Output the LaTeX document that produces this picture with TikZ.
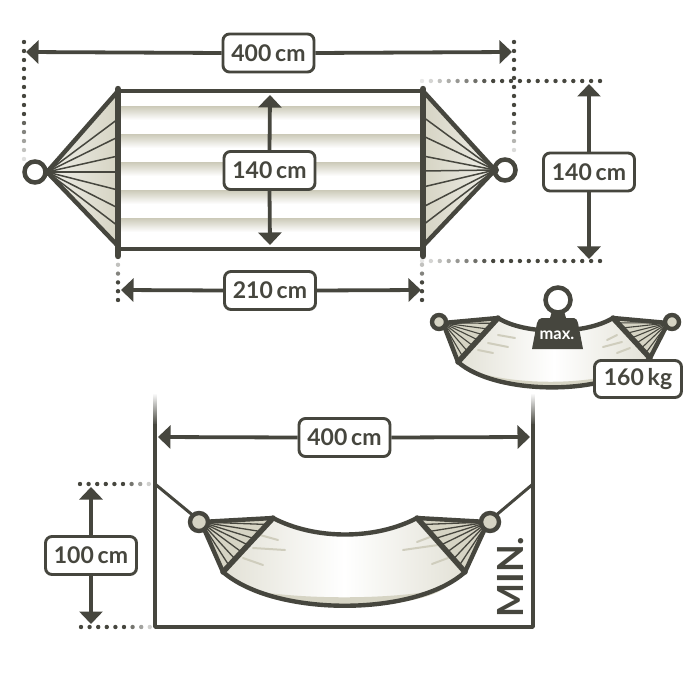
\documentclass[tikz,border=0pt]{standalone}
\usepackage{fontspec}
\setmainfont{Lato}
\usetikzlibrary{arrows.meta,calc}
\definecolor{ink}{HTML}{46463E}
\definecolor{tan}{HTML}{D6D4C4}
\definecolor{fold}{HTML}{CFCDBD}
\tikzset{
  lab/.style={draw=ink,line width=2.9pt,fill=white,rounded corners=6.5pt,text=ink,font=\fontsize{23}{25}\selectfont\bfseries,inner sep=0pt},
  labw/.style={lab,minimum width=91pt,minimum height=38pt},
  dim/.style={draw=ink,line width=3.8pt,-{Triangle[length=12.5pt,width=23pt]},shorten >=0pt},
  edge/.style={draw=ink,line width=4.4pt,line cap=round},
  bar/.style={draw=ink,line width=6.4pt,line cap=round},
  bar2/.style={draw=ink,line width=5.4pt,line cap=round},
  fan/.style={draw=ink,line width=1.5pt},
  foldline/.style={draw=fold,line width=2pt,line cap=round},
  ringL/.style={draw=ink,line width=4.5pt,fill=white},
  ringS/.style={draw=ink,line width=4.4pt,fill=tan},
}
% dotted run: x1 y1 dx dy count fadecount (fade at end of run)
\newcommand\dotrun[6]{%
  \foreach \i in {0,...,#5}{%
    \pgfmathsetmacro\op{min(1,max(0.12,(#5-\i+1)/(#6+1)))}%
    \fill[ink,opacity=\op] ({#1+\i*#3},{#2+\i*#4}) circle (2.2pt);
  }}
\begin{document}
\begin{tikzpicture}[x=1pt,y=-1pt]
\useasboundingbox (0,0) rectangle (700,700);
\fill[white] (0,0) rectangle (700,700);

% ---------- top view ----------
\foreach \y in {107,135,163,191,219}{
  \shade[top color=fold,bottom color=white] (118,\y) rectangle (423,\y+13);
}
\shade[right color=tan,left color=white!60!tan] (118,92) -- (47,172) -- (118,247) -- cycle;
\shade[left color=tan,right color=white!60!tan] (423,92) -- (495,170) -- (423,247) -- cycle;

\coordinate (lapex) at (47,172);
\coordinate (rapex) at (495,170);
\foreach \y in {119,137,156,172,190,208,226}{
  \draw[fan] (lapex) -- (118,\y);
}
\foreach \y in {117,136,156,171,187,207,225}{
  \draw[fan] (rapex) -- (423,\y);
}
\draw[edge] (118,91) -- (lapex) -- (118,246);
\draw[edge] (423,91) -- (rapex) -- (423,246);
\draw[edge] (118,91) -- (423,91);
\draw[edge] (118,249) -- (423,249);
\draw[bar] (118,89) -- (118,256);
\draw[bar] (423,89) -- (423,256);
\node[circle,ringL,minimum size=21pt,inner sep=0pt] (lring) at (35,172) {};
\node[circle,ringL,minimum size=21pt,inner sep=0pt] (rring) at (505,170) {};
\fill[ink] (lapex) circle (4pt) (rapex) circle (4pt);

% dotted guides
\dotrun{24}{42}{0}{9}{13}{5}
\dotrun{514}{42}{0}{9}{12}{4}
\dotrun{600}{81}{-8.9}{0}{20}{8}
\dotrun{600}{261}{-8.9}{0}{20}{8}
\dotrun{118}{300}{0}{-8.8}{4}{2}
\dotrun{422}{300}{0}{-8.8}{4}{2}

% top dimensions
\coordinate (t1) at (26,52);
\coordinate (t2) at (512,52);
\node[labw] (b400top) at (268.5,53) {400\,cm};
\draw[dim] (b400top.west) -- (t1);
\draw[dim] (b400top.east) -- (t2);

\coordinate (w1) at (270,95);
\coordinate (w2) at (270,245);
\node[labw] (b140in) at (269.5,170.5) {140\,cm};
\draw[dim] (b140in.north) -- (w1);
\draw[dim] (b140in.south) -- (w2);

\coordinate (s1) at (121,290);
\coordinate (s2) at (421,290);
\node[labw] (b210) at (270,290.5) {210\,cm};
\draw[dim] (b210.west) -- (s1);
\draw[dim] (b210.east) -- (s2);

\coordinate (h1) at (589,84);
\coordinate (h2) at (589,259);
\node[labw] (b140out) at (589,172) {140\,cm};
\draw[dim] (b140out.north) -- (h1);
\draw[dim] (b140out.south) -- (h2);

% ---------- small loaded hammock ----------
\coordinate (sLt) at (498,318);
\coordinate (sLb) at (458,362);
\coordinate (sRt) at (613,318);
\coordinate (sRb) at (650,358);
\coordinate (sLa) at (443,323);
\coordinate (sRa) at (668,323);
\shade[left color=white!30!tan,right color=white!30!tan,middle color=white]
  (sLt) .. controls (525,335) and (585,335) .. (sRt) -- (sRb)
  .. controls (610,398) and (495,395) .. (sLb) -- cycle;
\fill[tan] (466,368) .. controls (505,386) and (600,388) .. (642,364)
  .. controls (610,398) and (495,395) .. cycle;
\fill[tan] (sLa) -- (sLt) -- (sLb) -- cycle;
\fill[tan] (sRa) -- (sRt) -- (sRb) -- cycle;
\foreach \t in {0.12,0.25,0.38,0.5,0.63,0.76,0.88}{
  \draw[draw=ink,line width=1.1pt] (sLa) -- ($(sLt)!\t!(sLb)$);
  \draw[draw=ink,line width=1.1pt] (sRa) -- ($(sRt)!\t!(sRb)$);
}
\draw[foldline] (498,335) -- (515,338);
\draw[foldline] (488,343) -- (508,347);
\draw[foldline] (478,350) -- (493,353);
\draw[foldline] (617,335) -- (607,340);
\draw[foldline] (622,342) -- (603,347);
\draw[foldline] (630,348) -- (617,353);
\draw[edge] (sLa) -- (sLt) (sLa) -- (sLb) (sRa) -- (sRt) (sRa) -- (sRb);
\draw[edge] (sLt) .. controls (525,335) and (585,335) .. (sRt);
\draw[edge] (sRb) .. controls (610,398) and (495,395) .. (sLb);
\draw[bar2] (sLt) -- (sLb);
\draw[bar2] (sRt) -- (sRb);
\node[circle,ringS,minimum size=14pt,inner sep=0pt] (srl) at (439,322) {};
\node[circle,ringS,minimum size=14pt,inner sep=0pt] (srr) at (672,322) {};
% weight
\node[circle,ringL,minimum size=25pt,inner sep=0pt] (wring) at (558,300) {};
\fill[ink] (552,311) -- (564,311) -- (566,318) -- (574,318) to[out=0,in=110] (578,323) -- (583,349) -- (532,349) -- (537,323) to[out=70,in=180] (542,318) -- (550,318) -- cycle;
\node[text=white,font=\fontsize{16.5}{18}\selectfont\bfseries,inner sep=0pt] (wlab) at (557,335) {max.};
\node[lab,minimum width=87pt,minimum height=37pt] (b160) at (638,379) {160\,kg};

% ---------- hanging scene ----------
\shade[top color=white,bottom color=ink] (153.2,393) rectangle (156.8,425);
\shade[top color=white,bottom color=ink] (531.2,393) rectangle (534.8,425);
\coordinate (pLt) at (155,424);
\coordinate (pRt) at (533,424);
\coordinate (pLb) at (155,627);
\coordinate (pRb) at (533,627);
\draw[draw=ink,line width=3.5pt,line join=round] (pLt) -- (pLb) -- (pRb) -- (pRt);

\coordinate (bLt) at (273,518);
\coordinate (bLb) at (223,572);
\coordinate (bRt) at (417,518);
\coordinate (bRb) at (465,572);
\coordinate (bLa) at (201,522);
\coordinate (bRa) at (488,522);
\coordinate (aL) at (155,484);
\coordinate (aR) at (533,484);
\draw[draw=ink,line width=3pt] (aL) -- (bLa);
\draw[draw=ink,line width=3pt] (aR) -- (bRa);
\shade[left color=white!30!tan,right color=white!30!tan,middle color=white]
  (bLt) .. controls (315,540) and (375,540) .. (bRt) -- (bRb)
  .. controls (415,617) and (275,617) .. (bLb) -- cycle;
\fill[tan] (250,590) .. controls (300,600) and (400,600) .. (445,588)
  .. controls (410,612) and (285,612) .. cycle;
\fill[tan] (bLa) -- (bLt) -- (bLb) -- cycle;
\fill[tan] (bRa) -- (bRt) -- (bRb) -- cycle;
\foreach \t in {0.12,0.25,0.38,0.5,0.63,0.76,0.88}{
  \draw[draw=ink,line width=1.3pt] (bLa) -- ($(bLt)!\t!(bLb)$);
  \draw[draw=ink,line width=1.3pt] (bRa) -- ($(bRt)!\t!(bRb)$);
}
\draw[foldline] (260,535) -- (278,540);
\draw[foldline] (253,548) -- (285,550);
\draw[foldline] (243,558) -- (263,565);
\draw[foldline] (430,537) -- (417,542);
\draw[foldline] (438,545) -- (403,550);
\draw[foldline] (448,558) -- (432,564);
\draw[edge] (bLa) -- (bLt) (bLa) -- (bLb) (bRa) -- (bRt) (bRa) -- (bRb);
\draw[edge] (bLt) .. controls (315,540) and (375,540) .. (bRt);
\draw[edge] (bRb) .. controls (415,617) and (275,617) .. (bLb);
\draw[bar2] (bLt) -- (bLb);
\draw[bar2] (bRt) -- (bRb);
\node[circle,ringS,minimum size=18pt,inner sep=0pt] (brl) at (199,522) {};
\node[circle,ringS,minimum size=18pt,inner sep=0pt] (brr) at (490,522) {};

\dotrun{80}{484}{8.6}{0}{8}{3}
\dotrun{81}{627}{8.6}{0}{8}{3}

\coordinate (d1) at (158,437);
\coordinate (d2) at (530,437);
\node[labw] (b400low) at (344.5,437.5) {400\,cm};
\draw[dim] (b400low.west) -- (d1);
\draw[dim] (b400low.east) -- (d2);

\coordinate (v1) at (91,487);
\coordinate (v2) at (91,624);
\node[labw] (b100) at (91,555.5) {100\,cm};
\draw[dim] (b100.north) -- (v1);
\draw[dim] (b100.south) -- (v2);

\node[rotate=90,text=ink,font=\fontsize{36}{38}\selectfont\bfseries,inner sep=0pt] (minlab) at (510.5,577) {MIN.};
\end{tikzpicture}
\end{document}
